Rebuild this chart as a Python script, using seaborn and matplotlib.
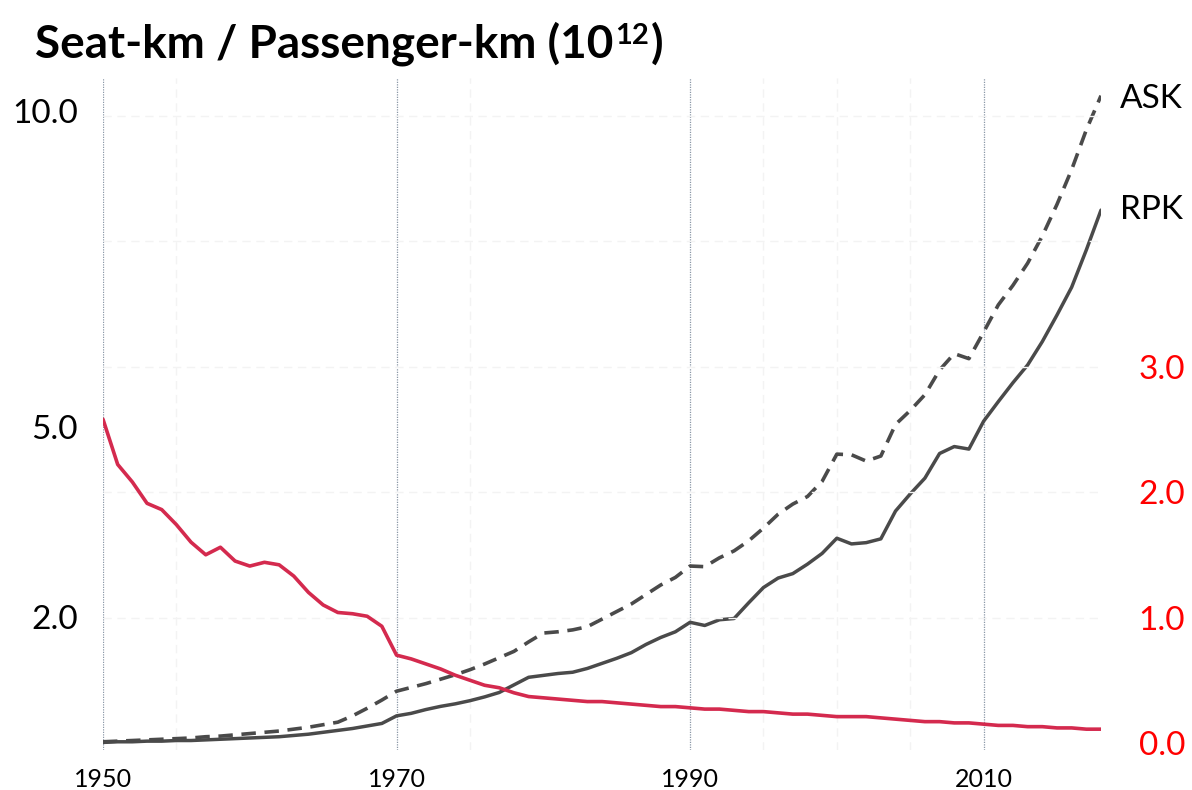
import numpy as np
import pandas as pd
import matplotlib
matplotlib.use("Agg")
import matplotlib.pyplot as plt
from matplotlib.transforms import offset_copy
import seaborn as sns

# yearly values
years = list(range(1950, 2019))

# available seat-km, 10^12 (dashed)
ask = [0.02, 0.03, 0.04, 0.05, 0.06, 0.07, 0.08, 0.10, 0.11, 0.13,
       0.15, 0.17, 0.19, 0.22, 0.25, 0.29, 0.33, 0.43, 0.55, 0.68,
       0.82, 0.88, 0.94, 1.01, 1.08, 1.16, 1.25, 1.35, 1.45, 1.60,
       1.74, 1.76, 1.79, 1.84, 1.96, 2.08, 2.20, 2.35, 2.50, 2.62,
       2.80, 2.79, 2.93, 3.04, 3.20, 3.40, 3.62, 3.78, 3.90, 4.14,
       4.57, 4.56, 4.46, 4.54, 5.04, 5.26, 5.51, 5.90, 6.16, 6.08,
       6.50, 6.93, 7.24, 7.59, 8.02, 8.52, 9.07, 9.70, 10.24]

# revenue passenger-km, 10^12 (solid)
rpk = [0.01, 0.02, 0.02, 0.03, 0.03, 0.04, 0.04, 0.05, 0.06, 0.07,
       0.08, 0.09, 0.10, 0.12, 0.14, 0.17, 0.20, 0.23, 0.27, 0.31,
       0.43, 0.47, 0.53, 0.58, 0.62, 0.67, 0.73, 0.80, 0.92, 1.04,
       1.07, 1.10, 1.12, 1.18, 1.26, 1.34, 1.43, 1.56, 1.67, 1.76,
       1.91, 1.86, 1.95, 1.97, 2.22, 2.46, 2.61, 2.68, 2.83, 3.00,
       3.24, 3.15, 3.17, 3.23, 3.67, 3.94, 4.19, 4.58, 4.69, 4.65,
       5.09, 5.40, 5.70, 5.98, 6.35, 6.77, 7.21, 7.80, 8.43]

# red series on the right axis
red = [2.58, 2.22, 2.08, 1.91, 1.86, 1.74, 1.60, 1.50, 1.56, 1.45,
       1.41, 1.44, 1.42, 1.33, 1.20, 1.10, 1.04, 1.03, 1.01, 0.93,
       0.70, 0.67, 0.63, 0.59, 0.54, 0.50, 0.46, 0.44, 0.40, 0.37,
       0.36, 0.35, 0.34, 0.33, 0.33, 0.32, 0.31, 0.30, 0.29, 0.29,
       0.28, 0.27, 0.27, 0.26, 0.25, 0.25, 0.24, 0.23, 0.23, 0.22,
       0.21, 0.21, 0.21, 0.20, 0.19, 0.18, 0.17, 0.17, 0.16, 0.16,
       0.15, 0.14, 0.14, 0.13, 0.13, 0.12, 0.12, 0.11, 0.11]

x_ticks = [1950, 1970, 1990, 2010]
faint_years = [1955, 1975, 1995, 2000, 2005]
left_ticks = [2.0, 5.0, 10.0]
right_ticks = [0.0, 1.0, 2.0, 3.0]

df = pd.DataFrame({"year": years, "ASK": ask, "RPK": rpk, "red": red})

sns.set_style("white")
plt.rcParams["font.family"] = ["Lato", "DejaVu Sans"]
plt.rcParams["text.color"] = "black"

W, H = 1192, 790
fig = plt.figure(figsize=(W / 100, H / 100), dpi=100)
left, right, top, bottom = 103, 1101, 78, 750
ax = fig.add_axes([left / W, 1 - bottom / H, (right - left) / W, (bottom - top) / H])
ax2 = ax.twinx()

gray = "#4a4a4a"
crimson = "#d42a4e"

# very faint background grid
for yr in faint_years:
    ax.axvline(yr, color="#f3f3f3", lw=1, ls=(0, (6, 4)), zorder=0)
for v in [1, 2, 3, 4, 5]:
    ax2.axhline(v, color="#f3f3f3", lw=1, ls=(0, (6, 4)), zorder=0)
for yr in x_ticks:
    ax.axvline(yr, color="#8a97a6", lw=0.9, ls=(0, (1, 1)), zorder=1)

sns.lineplot(data=df, x="year", y="ASK", ax=ax, color=gray, lw=2.6,
             linestyle=(0, (4, 2.4)), zorder=3)
sns.lineplot(data=df, x="year", y="RPK", ax=ax, color=gray, lw=2.5, zorder=3)
sns.lineplot(data=df, x="year", y="red", ax=ax2, color=crimson, lw=2.6, zorder=3)

ax.set_xlim(1950, 2018)
ax.set_ylim(-0.11, 10.52)
ax2.set_ylim(-0.056, 5.30)

ax.set_xticks(x_ticks)
ax.set_xticklabels([str(t) for t in x_ticks])
ax.set_yticks(left_ticks)
ax.set_yticklabels([f"{t:.1f}" for t in left_ticks])
ax2.set_yticks(right_ticks)
ax2.set_yticklabels([f"{t:.1f}" for t in right_ticks])

ax.tick_params(axis="x", length=0, pad=13, labelsize=18, labelcolor="black")
ax.tick_params(axis="y", length=0, pad=18, labelsize=24, labelcolor="black")
ax2.tick_params(axis="y", length=0, pad=27, labelsize=24, labelcolor="#ff0000")

ax.set_xlabel("")
ax.set_ylabel("")
ax2.set_ylabel("")
for a in (ax, ax2):
    for s in a.spines.values():
        s.set_visible(False)
    a.grid(False)

ax.text(2019.3, ask[-1] - 0.05, "ASK", fontsize=24, va="center", ha="left")
ax.text(2019.3, rpk[-1], "RPK", fontsize=24, va="center", ha="left")

# title with a raised "12"
fig.canvas.draw()
r = fig.canvas.get_renderer()
t1 = fig.text(35 / W, 1 - 58 / H, "Seat-km / Passenger-km (10", fontsize=33,
              fontweight="bold", va="baseline", ha="left")
w1 = t1.get_window_extent(r).width
t2 = fig.text(35 / W, 1 - 58 / H, "12", fontsize=21, fontweight="bold",
              va="baseline", ha="left",
              transform=offset_copy(fig.transFigure, fig=fig, x=w1 + 2, y=14, units="dots"))
w2 = t2.get_window_extent(r).width
fig.text(35 / W, 1 - 58 / H, ")", fontsize=33, fontweight="bold",
         va="baseline", ha="left",
         transform=offset_copy(fig.transFigure, fig=fig, x=w1 + w2 + 3, y=0, units="dots"))

fig.savefig("out.png", dpi=100)
